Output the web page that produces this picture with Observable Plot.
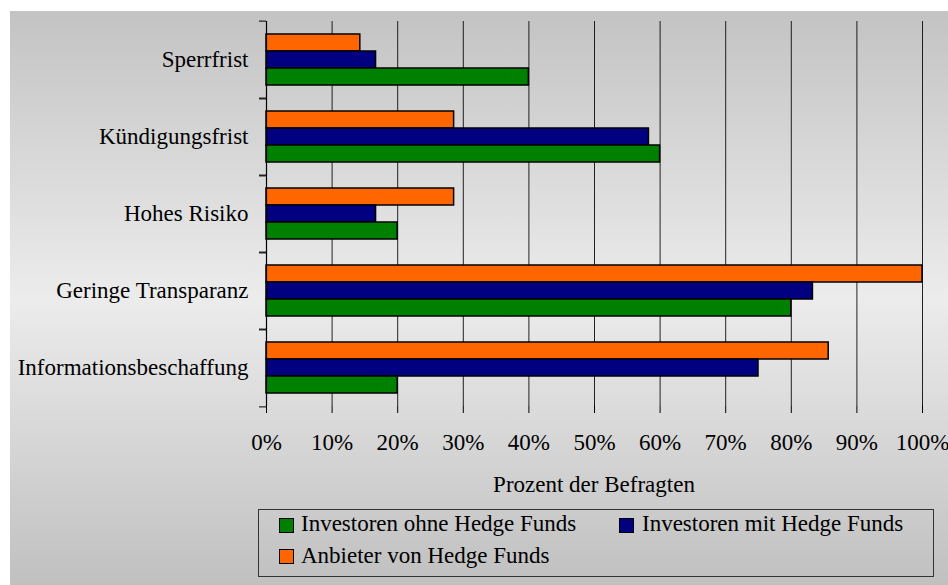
<!DOCTYPE html>
<html>
<head>
<meta charset="utf-8">
<script src="https://cdn.jsdelivr.net/npm/d3@7"></script>
<script src="https://cdn.jsdelivr.net/npm/@observablehq/plot@0.6"></script>
<style>
  html, body { margin: 0; padding: 0; background: #fff; }
  body { width: 948px; height: 585px; overflow: hidden; position: relative;
         font-family: "Liberation Serif", "Times New Roman", serif; color: #000; }
  #panel { position: absolute; left: 10px; top: 11px; width: 938px; height: 574px;
           background: linear-gradient(to bottom, #c3c3c3 0%, #ececec 50%, #c0c0c0 100%); }
  #chart { position: absolute; left: 0; top: 0; }
  #xlabel { position: absolute; left: 256px; width: 656px; top: 462px; text-align: center;
            font-size: 23px; line-height: 23px; }
  #legend { position: absolute; left: 248px; top: 498px; width: 676px; height: 68px;
            box-sizing: border-box; border: 1px solid #333; }
  .sw { position: absolute; width: 15px; height: 15px; box-sizing: border-box; border: 1.5px solid #000; }
  .lt { position: absolute; font-size: 23px; line-height: 23px; white-space: nowrap; }
</style>
</head>
<body>
<div id="panel">
  <div id="chart"></div>
  <div id="xlabel"></div>
  <div id="legend"></div>
</div>
<script>
const categories = ["Sperrfrist", "Kündigungsfrist", "Hohes Risiko", "Geringe Transparanz", "Informationsbeschaffung"];
const series = ["Anbieter von Hedge Funds", "Investoren mit Hedge Funds", "Investoren ohne Hedge Funds"];
const anbieter = [14.3, 28.6, 28.6, 100, 85.7];
const investorenMit = [16.7, 58.3, 16.7, 83.3, 75];
const investorenOhne = [40, 60, 20, 80, 20];
const seriesColors = ["#FF6600", "#000080", "#008000"];
const xTicks = [0, 10, 20, 30, 40, 50, 60, 70, 80, 90, 100];
const xTitle = "Prozent der Befragten";
const legendOrder = ["Investoren ohne Hedge Funds", "Investoren mit Hedge Funds", "Anbieter von Hedge Funds"];

const values = [anbieter, investorenMit, investorenOhne];
const rows = [];
categories.forEach((c, i) => series.forEach((s, j) => rows.push({category: c, series: s, value: values[j][i]})));

const bandStep = (397 - 8) / categories.length;

const plot = Plot.plot({
  width: 938,
  height: 447,
  marginLeft: 256,
  marginRight: 26,
  marginTop: 8,
  marginBottom: 50,
  style: {background: "transparent", fontFamily: "'Liberation Serif', 'Times New Roman', serif", fontSize: "23px", color: "#000", overflow: "visible"},
  x: {domain: [0, 100], axis: null},
  y: {domain: series, axis: null, paddingInner: 0, paddingOuter: 0.7},
  fy: {domain: categories, padding: 0, axis: null, label: null},
  color: {domain: series, range: seriesColors},
  marks: [
    Plot.gridX(xTicks, {stroke: "#000", strokeOpacity: 0.85, strokeWidth: 1}),
    Plot.barX(rows, {x: "value", y: "series", fy: "category", fill: "series", stroke: "#000", strokeWidth: 1.5}),
    Plot.ruleX([0], {stroke: "#000", strokeWidth: 1.2}),
    Plot.axisFy({anchor: "left", tickSize: 0, tickPadding: 18, label: null, fontSize: 23}),
    Plot.axisFy({anchor: "left", tickSize: 7, tickFormat: () => "", label: null, dy: -bandStep / 2}),
    Plot.axisFy({anchor: "left", tickSize: 7, tickFormat: () => "", label: null, dy: bandStep / 2}),
    Plot.axisX({anchor: "bottom", ticks: xTicks, tickSize: 7, tickPadding: 20, tickFormat: d => d + "%", label: null, fontSize: 23, line: true})
  ]
});
document.getElementById("chart").appendChild(plot);
document.getElementById("xlabel").textContent = xTitle;

const legend = document.getElementById("legend");
const pos = [
  {sx: 20, sy: 8, tx: 42, ty: 2},
  {sx: 360, sy: 8, tx: 383, ty: 2},
  {sx: 20, sy: 39, tx: 42, ty: 34}
];
legendOrder.forEach((s, k) => {
  const sw = document.createElement("div");
  sw.className = "sw";
  sw.style.left = pos[k].sx + "px";
  sw.style.top = pos[k].sy + "px";
  sw.style.background = seriesColors[series.indexOf(s)];
  legend.appendChild(sw);
  const t = document.createElement("div");
  t.className = "lt";
  t.style.left = pos[k].tx + "px";
  t.style.top = pos[k].ty + "px";
  t.textContent = s;
  legend.appendChild(t);
});
</script>
</body>
</html>
